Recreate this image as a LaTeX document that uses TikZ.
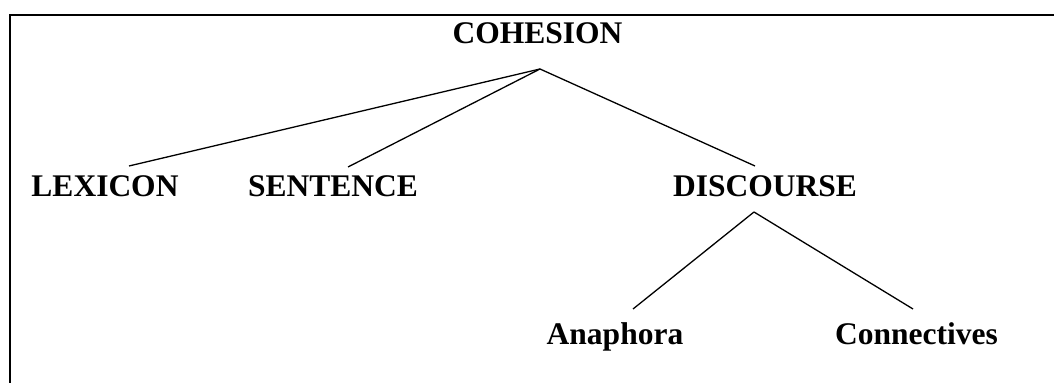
\documentclass[tikz,border=0pt]{standalone}
\usepackage{fontspec}
\setmainfont{Liberation Serif}
\begin{document}
\begin{tikzpicture}[x=0.5pt,y=-0.5pt,
  lbl/.style={font=\fontsize{15.75}{18}\selectfont\bfseries, anchor=base, inner sep=0pt},
  conn/.style={line width=0.65pt},
  frame/.style={line width=1pt}]
\useasboundingbox (0,0) rectangle (1054,383);
\draw[frame] (10,383) -- (10,15) -- (1054,15);
% nodes
\node[lbl] (coh) at (537.5,44) {COHESION};
\node[lbl] (lex) at (105,197) {LEXICON};
\node[lbl] (sen) at (333,197) {SENTENCE};
\node[lbl] (dis) at (765,197) {DISCOURSE};
\node[lbl] (ana) at (615,345) {Anaphora};
\node[lbl] (con) at (916.5,345) {Connectives};
% connector end points
\coordinate (cohB) at (540,69);
\coordinate (lexT) at (129,166);
\coordinate (senT) at (348,167);
\coordinate (disT) at (755,166);
\coordinate (disB) at (754,212);
\coordinate (anaT) at (633,309);
\coordinate (conT) at (913,309);
\draw[conn] (cohB) -- (lexT);
\draw[conn] (cohB) -- (senT);
\draw[conn] (cohB) -- (disT);
\draw[conn] (disB) -- (anaT);
\draw[conn] (disB) -- (conT);
\end{tikzpicture}
\end{document}
